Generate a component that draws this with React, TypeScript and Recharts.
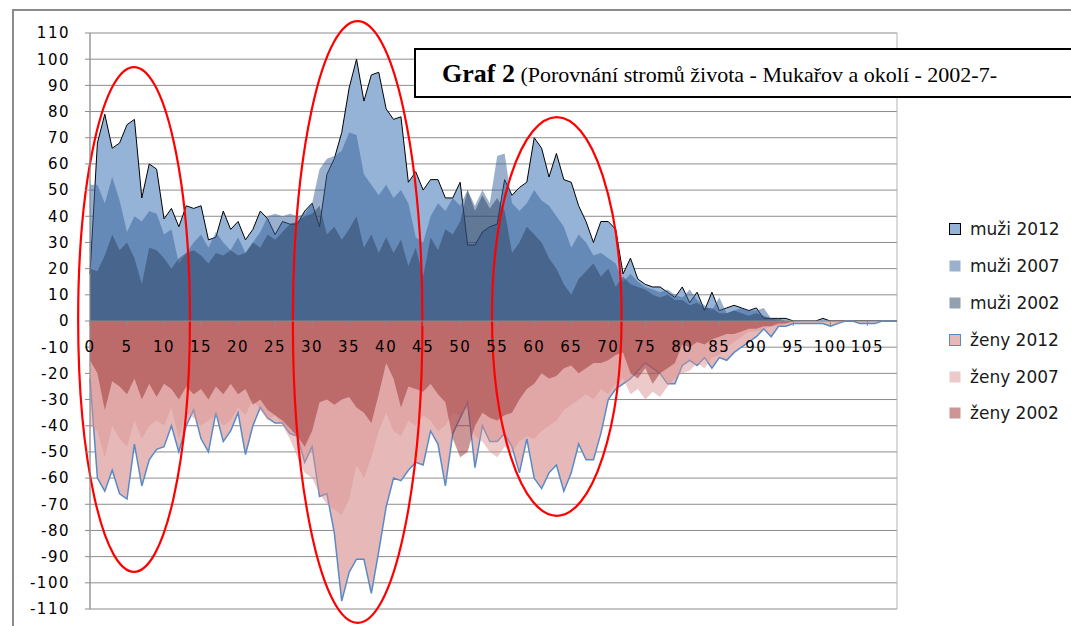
import React from 'react';
import { AreaChart, Area, XAxis, YAxis, CartesianGrid, ReferenceLine, ReferenceArea, ReferenceDot } from 'recharts';

// age categories 0..109
const ages = Array.from({ length: 110 }, (_, i) => i);

// men (positive side)
const muzi2012 = [
  18, 68, 79, 66, 68, 75, 77, 47, 60, 58,
  39, 43, 36, 44, 43, 44, 31, 32, 42, 35,
  38, 31, 35, 42, 39, 33, 38, 37, 37, 42,
  45, 36, 56, 62, 72, 89, 100, 84, 94, 95,
  81, 77, 78, 53, 57, 50, 54, 54, 47, 47,
  53, 29, 29, 34, 36, 37, 54, 48, 51, 53,
  70, 66, 55, 64, 54, 53, 44, 38, 30, 38,
  38, 35, 18, 24, 16, 14, 13, 13, 11, 9,
  13, 7, 11, 4, 11, 4, 5, 6, 5, 4,
  5, 1, 1, 1, 1, 0, 0, 0, 0, 1,
  0, 0, 0, 0, 0, 0, 0, 0, 0, 0,
];
const muzi2007 = [
  52, 52, 45, 55, 46, 34, 40, 38, 42, 41,
  33, 35, 22, 26, 30, 33, 28, 34, 30, 27,
  32, 26, 30, 34, 40, 41, 40, 41, 40, 41,
  45, 58, 62, 63, 65, 72, 71, 56, 52, 48,
  52, 47, 50, 45, 32, 30, 40, 45, 42, 47,
  44, 50, 44, 50, 45, 63, 64, 45, 42, 45,
  50, 46, 44, 40, 36, 28, 33, 30, 25, 26,
  24, 22, 15, 18, 15, 13, 12, 11, 12, 10,
  9, 12, 8, 6, 4, 9, 3, 4, 5, 4,
  4, 5, 1, 0, 0, 0, 0, 0, 0, 0,
  0, 0, 0, 0, 0, 0, 0, 0, 0, 0,
];
const muzi2002 = [
  20, 19, 25, 33, 27, 30, 24, 14, 28, 27,
  24, 20, 24, 26, 27, 25, 22, 26, 25, 27,
  25, 26, 30, 28, 33, 31, 34, 37, 38, 40,
  41, 44, 33, 36, 31, 35, 40, 28, 33, 26,
  32, 26, 31, 21, 28, 17, 32, 27, 35, 33,
  38, 50, 42, 48, 43, 47, 42, 26, 30, 36,
  33, 30, 24, 20, 14, 10, 16, 19, 22, 17,
  20, 13, 17, 14, 13, 12, 10, 9, 10, 8,
  8, 6, 7, 5, 5, 3, 3, 4, 3, 2,
  3, 2, 1, 1, 0, 0, 0, 0, 0, 0,
  0, 0, 0, 0, 0, 0, 0, 0, 0, 0,
];

// women (negative side)
const zeny2012 = [
  -22, -60, -65, -57, -66, -68, -47, -63, -53, -49,
  -48, -40, -50, -40, -34, -45, -50, -35, -46, -42,
  -35, -51, -40, -33, -37, -39, -39, -43, -44, -54,
  -48, -67, -66, -81, -107, -96, -91, -91, -104, -88,
  -71, -60, -61, -57, -54, -55, -42, -47, -63, -43,
  -37, -31, -56, -40, -46, -46, -43, -48, -58, -45,
  -60, -64, -58, -55, -65, -58, -47, -53, -53, -43,
  -30, -26, -24, -22, -19, -16, -18, -20, -24, -24,
  -17, -15, -17, -14, -18, -14, -15, -12, -10, -8,
  -6, -3, -6, -2, -2, -1, -1, -1, -1, -1,
  -2, -1, 0, 0, -1, -1, -1, 0, 0, 0,
];
const zeny2007 = [
  -40, -42, -52, -40, -45, -48, -38, -45, -40, -38,
  -40, -33, -45, -35, -37, -40, -38, -36, -40, -38,
  -33, -36, -30, -34, -38, -36, -40, -45, -52, -58,
  -60, -66, -70, -72, -74, -68, -55, -60, -52, -42,
  -35, -42, -44, -38, -40, -36, -38, -42, -40, -35,
  -36, -33, -44, -46, -50, -52, -48, -50, -46, -44,
  -45, -42, -40, -38, -34, -32, -30, -28, -30, -26,
  -28, -24, -22, -28, -26, -30, -27, -29, -25, -22,
  -20, -19, -16, -18, -14, -13, -10, -8, -6, -4,
  -4, -3, -2, -2, -1, -1, 0, 0, 0, 0,
  0, -1, 0, 0, 0, 0, 0, 0, 0, 0,
];
const zeny2002 = [
  -15, -20, -34, -23, -25, -28, -22, -30, -24, -29,
  -24, -26, -30, -25, -28, -26, -30, -25, -28, -24,
  -28, -26, -32, -30, -34, -36, -38, -41, -44, -48,
  -42, -31, -30, -32, -30, -29, -33, -35, -39, -28,
  -16, -22, -33, -25, -26, -27, -24, -28, -31, -45,
  -52, -50, -40, -35, -37, -38, -36, -35, -30, -26,
  -24, -20, -22, -21, -18, -17, -20, -18, -16, -16,
  -15, -13, -12, -20, -22, -18, -24, -20, -18, -16,
  -9, -10, -8, -9, -7, -6, -5, -5, -4, -3,
  -3, -2, -2, -1, -1, 0, 0, 0, 0, 0,
  0, 0, 0, 0, 0, 0, 0, 0, 0, 0,
];

const xTicks = [0, 5, 10, 15, 20, 25, 30, 35, 40, 45, 50, 55, 60, 65, 70, 75, 80, 85, 90, 95, 100, 105];
const yTicks = [110, 100, 90, 80, 70, 60, 50, 40, 30, 20, 10, 0, -10, -20, -30, -40, -50, -60, -70, -80, -90, -100, -110];

// red hand-drawn ovals, in data units (age range, value range)
const highlights = [
  { x1: -1.6, x2: 13.5, y1: 97, y2: -95.8 },
  { x1: 27.4, x2: 44.9, y1: 114.5, y2: -115.3 },
  { x1: 54.3, x2: 71.8, y1: 77.9, y2: -74.4 },
];

const data = ages.map((age, i) => ({
  age,
  muzi2012: muzi2012[i],
  muzi2007: muzi2007[i],
  muzi2002: muzi2002[i],
  zeny2012: zeny2012[i],
  zeny2007: zeny2007[i],
  zeny2002: zeny2002[i],
}));

const series = [
  { key: 'muzi2012', name: 'muži 2012', fill: '#95b3d7', opacity: 1, stroke: '#000000', strokeWidth: 1 },
  { key: 'muzi2007', name: 'muži 2007', fill: '#376199', opacity: 0.5, stroke: 'none', strokeWidth: 0 },
  { key: 'muzi2002', name: 'muži 2002', fill: '#293f61', opacity: 0.5, stroke: 'none', strokeWidth: 0 },
  { key: 'zeny2012', name: 'ženy 2012', fill: '#e6b9b8', opacity: 1, stroke: '#5a8ac6', strokeWidth: 1.5 },
  { key: 'zeny2007', name: 'ženy 2007', fill: '#d99593', opacity: 0.5, stroke: 'none', strokeWidth: 0 },
  { key: 'zeny2002', name: 'ženy 2002', fill: '#992d2d', opacity: 0.5, stroke: 'none', strokeWidth: 0 },
];

const W = 1071;
const H = 626;
const MARGIN = { top: 33, right: 174, bottom: 17, left: 0 };

const labelFont = { fontFamily: 'DejaVu Sans', fontSize: 15, fill: '#000', letterSpacing: 1.5 };

// category label sitting on the zero line (Excel puts the axis at 0)
const ZeroLineTick = ({ cx, cy, value }: any) => (
  <g>
    <line x1={cx} x2={cx} y1={cy} y2={cy + 5} stroke="#8a8a8a" />
    <text x={cx} y={cy + 31} textAnchor="middle" {...labelFont}>
      {value}
    </text>
  </g>
);

const Oval = (props: any) => {
  const { x, y, width, height } = props;
  return (
    <ellipse
      cx={x + width / 2}
      cy={y + height / 2}
      rx={Math.abs(width) / 2}
      ry={Math.abs(height) / 2}
      fill="none"
      stroke="#ff0000"
      strokeWidth={2.2}
    />
  );
};

const Legend6 = () => (
  <div style={{ position: 'absolute', left: 949, top: 211, fontFamily: 'DejaVu Sans', fontSize: 17, color: '#1a1a1a' }}>
    {series.map((s) => (
      <div key={s.key} style={{ display: 'flex', alignItems: 'center', height: 36.8 }}>
        <svg width={12} height={12}>
          <rect x={0.5} y={0.5} width={11} height={11} fill={s.fill} fillOpacity={s.opacity}
            stroke={s.stroke === 'none' ? 'none' : s.stroke} strokeWidth={1} />
        </svg>
        <span style={{ marginLeft: 9, whiteSpace: 'nowrap' }}>{s.name}</span>
      </div>
    ))}
  </div>
);

const App: React.FC = () => {
  return (
    <div style={{ position: 'absolute', left: 0, top: 0, width: W, height: H, overflow: 'hidden', background: '#fff' }}>
      <div style={{ position: 'absolute', left: 12, top: 9, width: W, height: H, border: '2px solid #8c8c8c' }} />
      <div style={{ position: 'absolute', left: 0, top: 0 }}>
        <AreaChart width={W} height={H} data={data} margin={MARGIN}>
          <CartesianGrid vertical={false} stroke="#8c8c8c" />
          <CartesianGrid horizontal={false} stroke="#b4b4b4" />
          <XAxis
            type="number"
            dataKey="age"
            domain={[0, 109]}
            ticks={xTicks}
            interval={0}
            height={0}
            axisLine={false}
            tickLine={false}
            tick={false}
          />
          <YAxis
            type="number"
            domain={[-110, 110]}
            ticks={yTicks}
            interval={0}
            width={90}
            tickSize={5}
            tickMargin={15}
            axisLine={{ stroke: '#8c8c8c' }}
            tickLine={{ stroke: '#8c8c8c' }}
            tick={labelFont}
          />
          {series.map((s) => (
            <Area
              key={s.key}
              type="linear"
              dataKey={s.key}
              name={s.name}
              baseValue={0}
              fill={s.fill}
              fillOpacity={s.opacity}
              stroke={s.stroke}
              strokeWidth={s.strokeWidth}
              dot={false}
              activeDot={false}
              isAnimationActive={false}
            />
          ))}
          <ReferenceLine y={0} stroke="#8a8a8a" strokeWidth={1} />
          {xTicks.map((t) => (
            <ReferenceDot
              key={t}
              x={t}
              y={0}
              r={0}
              ifOverflow="visible"
              shape={(p: any) => <ZeroLineTick cx={p.cx} cy={p.cy} value={t} />}
            />
          ))}
          {highlights.map((h, i) => (
            <ReferenceArea
              key={i}
              x1={h.x1}
              x2={h.x2}
              y1={h.y1}
              y2={h.y2}
              ifOverflow="visible"
              shape={<Oval />}
            />
          ))}
        </AreaChart>
      </div>
      <div
        style={{
          position: 'absolute',
          left: 414,
          top: 48,
          width: 644,
          height: 46,
          border: '2px solid #000',
          background: '#fff',
          fontFamily: 'Liberation Serif',
          lineHeight: '47px',
          paddingLeft: 26,
          boxSizing: 'content-box',
          whiteSpace: 'nowrap',
          overflow: 'hidden',
          color: '#000',
        }}
      >
        <span style={{ fontWeight: 'bold', fontSize: 26 }}>Graf 2</span>
        <span style={{ fontSize: 22 }}> (Porovnání stromů života - Mukařov a okolí - 2002-7-</span>
      </div>
      <Legend6 />
    </div>
  );
};

export default App;
